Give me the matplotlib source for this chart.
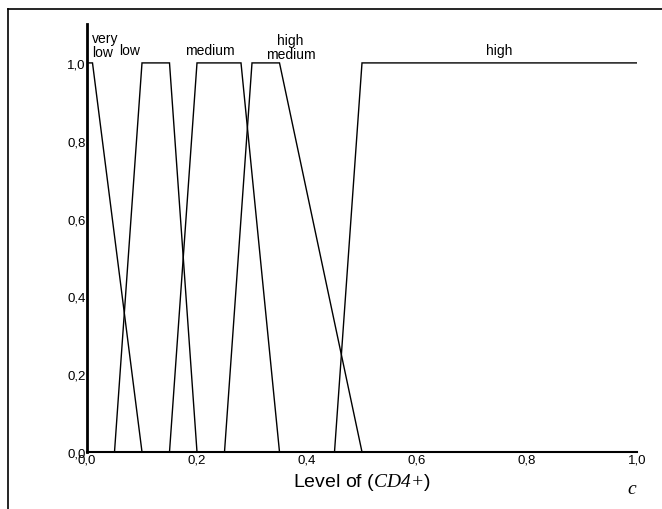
import matplotlib
matplotlib.use('Agg')
import matplotlib.pyplot as plt
from matplotlib.lines import Line2D

plt.rcParams['font.family'] = 'Liberation Sans'
plt.rcParams['mathtext.fontset'] = 'custom'
plt.rcParams['mathtext.it'] = 'Liberation Serif:italic'
plt.rcParams['mathtext.rm'] = 'Liberation Serif:italic'

# trapezoid membership functions (x points, y points)
sets = {
    'very low':    ([0.0, 0.01, 0.10], [1, 1, 0]),
    'low':         ([0.05, 0.10, 0.15, 0.20], [0, 1, 1, 0]),
    'medium':      ([0.15, 0.20, 0.28, 0.35], [0, 1, 1, 0]),
    'high medium': ([0.25, 0.30, 0.35, 0.50], [0, 1, 1, 0]),
    'high':        ([0.45, 0.50, 1.00], [0, 1, 1]),
}
labels = ['very\nlow', 'low', 'medium', 'high\nmedium', 'high']
label_x = [0.009, 0.078, 0.224, 0.37, 0.75]
label_y = [1.045, 1.033, 1.033, 1.04, 1.033]
ticks = [0.0, 0.2, 0.4, 0.6, 0.8, 1.0]
tick_labels = ['0,0', '0,2', '0,4', '0,6', '0,8', '1,0']

fig = plt.figure(figsize=(6.62, 5.10), dpi=100)
ax = fig.add_axes([87/662, 57/510, 550/662, 428/510])

for name, (xs, ys) in sets.items():
    ax.plot(xs, ys, color='black', lw=1.0, solid_joinstyle='miter')

for lab, lx, ly in zip(labels, label_x, label_y):
    ha = 'left' if lab.startswith('very') else 'center'
    ax.text(lx, ly, lab, ha=ha, va='center', fontsize=10, linespacing=1.0)

ax.set_xlim(0, 1.0)
ax.set_ylim(0, 1.10)
ax.set_xticks(ticks)
ax.set_xticklabels(tick_labels)
ax.set_yticks(ticks)
ax.set_yticklabels(tick_labels)
ax.tick_params(length=0, pad=1, labelsize=9.5)
for s in ['top', 'right']:
    ax.spines[s].set_visible(False)
ax.spines['left'].set_linewidth(2.0)
ax.spines['bottom'].set_linewidth(1.5)
ax.set_xlabel(r'Level of ($\mathit{CD}4{+}$)', fontsize=14, labelpad=4)
ax.text(0.99, -0.095, 'c', fontsize=14, family='Liberation Serif',
        style='italic', ha='center', va='center')

# outer frame (left and top edges)
W, H = 662, 510
fig.add_artist(Line2D([8/W, 8/W], [0, 1 - 10/H], color='black', lw=1.2,
                      transform=fig.transFigure))
fig.add_artist(Line2D([8/W, 1], [1 - 10/H, 1 - 10/H], color='black', lw=1.2,
                      transform=fig.transFigure))

fig.savefig('out.png', dpi=100)
